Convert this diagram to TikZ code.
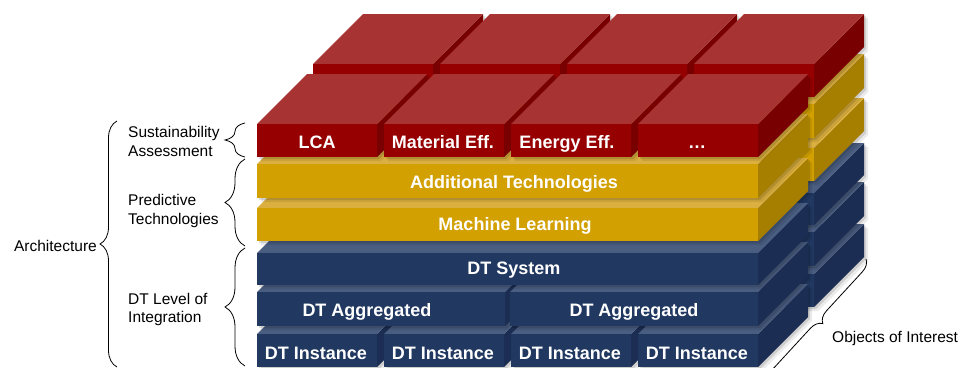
\documentclass[tikz,border=0pt]{standalone}
\usepackage{fontspec}
\setmainfont{Liberation Sans}
\usetikzlibrary{decorations.pathreplacing}
\definecolor{redF}{HTML}{960000}
\definecolor{redT}{HTML}{A83333}
\definecolor{redS}{HTML}{790000}
\definecolor{yelF}{HTML}{D2A000}
\definecolor{yelT}{HTML}{DCB040}
\definecolor{yelS}{HTML}{A67E00}
\definecolor{navF}{HTML}{213861}
\definecolor{navT}{HTML}{4A5E82}
\definecolor{navS}{HTML}{1B2D52}
% box: x, ytop, width, height, colour prefix
\newcommand{\cubshadow}[5]{%
  \fill[black, opacity=#5] (#1,#2+#4) -- (#1,#2) -- ++(50,-50) -- ++(#3,0) -- ++(0,#4) -- ++(-50,50) -- cycle;
}
\newcommand{\cub}[5]{%
  \cubshadow{#1+4}{#2+4}{#3}{#4}{0.08}
  \cubshadow{#1+2}{#2+2}{#3}{#4}{0.12}
  \fill[#5S] (#1+#3,#2) -- ++(50,-50) -- ++(0,#4) -- ++(-50,50) -- cycle;
  \fill[#5T] (#1,#2) -- ++(50,-50) -- ++(#3,0) -- ++(-50,50) -- cycle;
  \fill[#5F] (#1,#2) rectangle ++(#3,#4);
}
\newcommand{\stackrow}[2]{%
  \cub{257+#1}{334+#2}{120}{33}{nav}
  \cub{384+#1}{334+#2}{120}{33}{nav}
  \cub{511+#1}{334+#2}{120}{33}{nav}
  \cub{638+#1}{334+#2}{120}{33}{nav}
  \cub{257+#1}{292+#2}{248}{34}{nav}
  \cub{510+#1}{292+#2}{248}{34}{nav}
  \cub{257+#1}{253+#2}{501}{32}{nav}
  \cub{257+#1}{208+#2}{501}{33}{yel}
  \cub{257+#1}{164+#2}{501}{34}{yel}
  \cub{257+#1}{124+#2}{120}{33}{red}
  \cub{384+#1}{124+#2}{120}{33}{red}
  \cub{511+#1}{124+#2}{120}{33}{red}
  \cub{638+#1}{124+#2}{120}{33}{red}
}
\tikzset{
  lab/.style={font=\bfseries\fontsize{18}{18}\selectfont, text=white, inner sep=0pt, anchor=base},
  sidelab/.style={font=\fontsize{15.5}{18}\selectfont, text=black, inner sep=0pt, anchor=base west},
  brc/.style={decorate, line width=0.8pt, draw=black},
}
\begin{document}
\begin{tikzpicture}[x=1pt,y=-1pt]
\useasboundingbox (0,0) rectangle (961,367);
\fill[white] (0,0) rectangle (961,367);
% back row, then front row
\stackrow{56}{-60}
\stackrow{0}{0}
% labels on the boxes
\node[lab] (lca) at (317,148) {LCA};
\node[lab] (mat) at (443,148) {Material Eff.};
\node[lab] (ene) at (567,148) {Energy Eff.};
\node[lab] (etc) at (697,148) {…};
\node[lab] (add) at (514,188) {Additional Technologies};
\node[lab] (ml) at (515,230) {Machine Learning};
\node[lab] (sys) at (514,274) {DT System};
\node[lab] (agg1) at (367,316) {DT Aggregated};
\node[lab] (agg2) at (634,316) {DT Aggregated};
\node[lab] (in1) at (316,359) {DT Instance};
\node[lab] (in2) at (443,359) {DT Instance};
\node[lab] (in3) at (570,359) {DT Instance};
\node[lab] (in4) at (697,359) {DT Instance};
% side labels
\node[sidelab] (sus1) at (128,137) {Sustainability};
\node[sidelab] (sus2) at (128,156) {Assessment};
\node[sidelab] (pre1) at (128,205.5) {Predictive};
\node[sidelab] (pre2) at (128,224) {Technologies};
\node[sidelab] (dtl1) at (128,304) {DT Level of};
\node[sidelab] (dtl2) at (128,322.5) {Integration};
\node[sidelab, anchor=base east] (arch) at (97,251) {Architecture};
\node[sidelab] (obj) at (832,342) {Objects of Interest};
% braces
\coordinate (s1) at (245,157); \coordinate (s2) at (245,123);
\coordinate (p1) at (245,246); \coordinate (p2) at (245,159);
\coordinate (d1) at (245,366); \coordinate (d2) at (245,248);
\coordinate (a1) at (117,367); \coordinate (a2) at (117,121);
\coordinate (o1) at (866,259); \coordinate (o2) at (762,372);
\draw[brc, decoration={brace, amplitude=20pt}] (s1) -- (s2);
\draw[brc, decoration={brace, amplitude=20pt}] (p1) -- (p2);
\draw[brc, decoration={brace, amplitude=20pt}] (d1) -- (d2);
\draw[brc, decoration={brace, amplitude=17pt}] (a1) -- (a2);
\draw[brc, decoration={brace, amplitude=12pt}] (o1) -- (o2);
\end{tikzpicture}
\end{document}
